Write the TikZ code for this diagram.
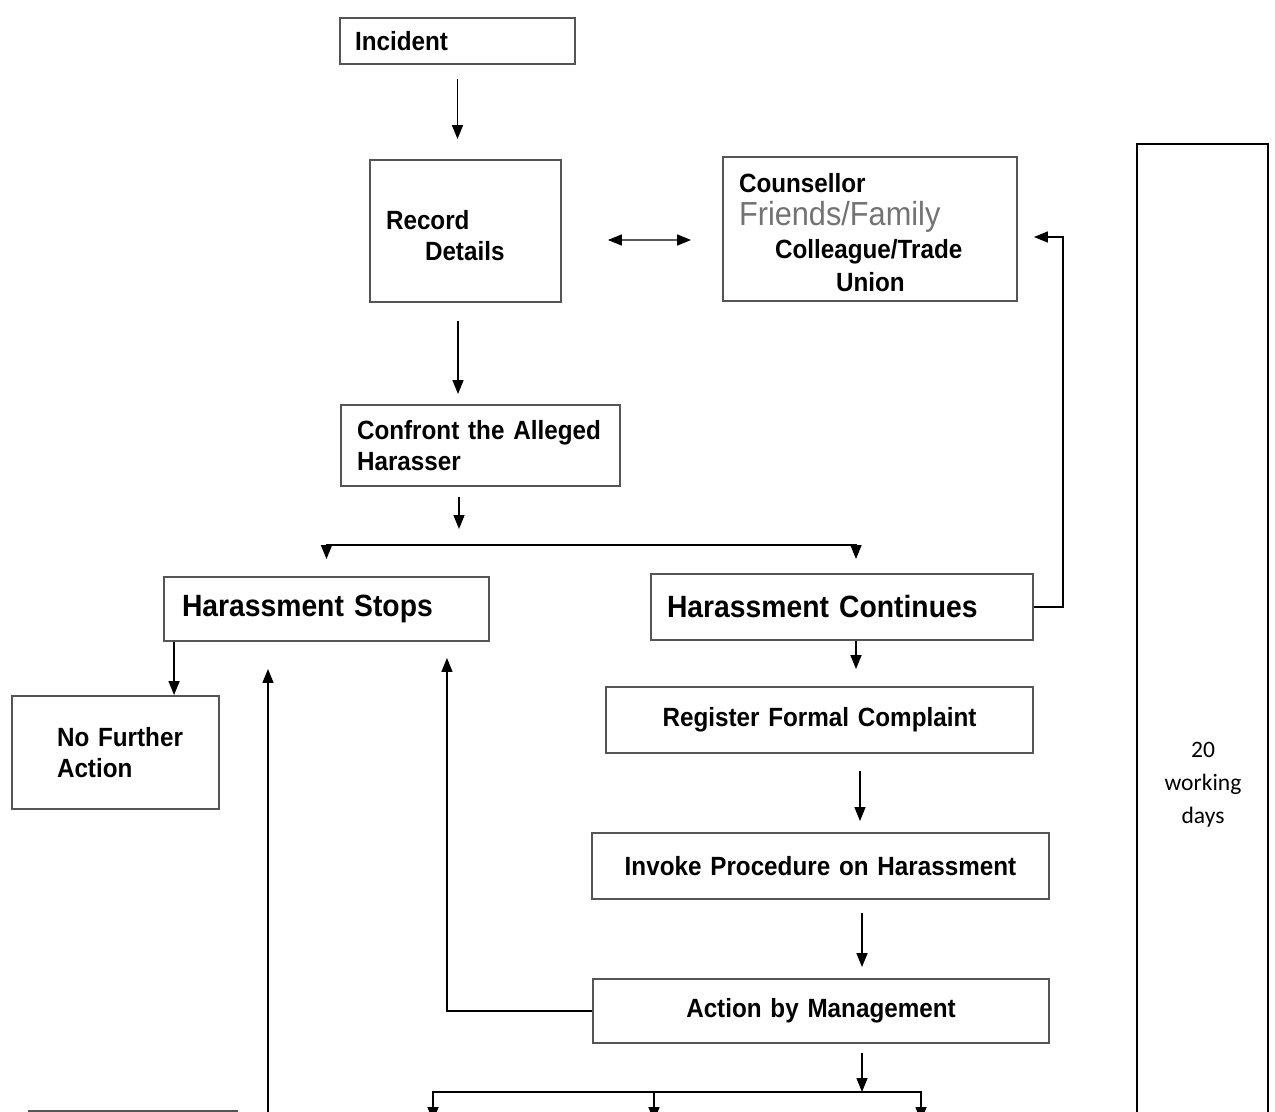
\documentclass[tikz,border=0pt]{standalone}
\usepackage{fontspec}
\newfontfamily\flowfont{Liberation Sans}[FakeStretch=0.92]
\newfontfamily\daysfont{Carlito}
\definecolor{boxgray}{RGB}{85,85,85}
\definecolor{softgray}{RGB}{115,115,115}
\usetikzlibrary{arrows.meta,positioning,calc}

\begin{document}
\begin{tikzpicture}[x=0.02cm, y=-0.02cm,
    box/.style={draw=boxgray, line width=1.1pt, inner xsep=0.3cm, inner ysep=0pt,
      font=\flowfont\bfseries\fontsize{15pt}{17.6pt}\selectfont, align=left},
    bigbox/.style={box, font=\flowfont\bfseries\fontsize{17.5pt}{20pt}\selectfont},
    arr/.style={-{Triangle[length=0.28cm,width=0.22cm]}, line width=0.85pt},
    arrboth/.style={{Triangle[length=0.28cm,width=0.22cm]}-{Triangle[length=0.28cm,width=0.22cm]}, line width=0.85pt}]
    \useasboundingbox (0,0) rectangle (1275,1112);
    \clip (0,0) rectangle (1275,1112);

    % Opening steps
    \node[box, text width=4.1cm, minimum height=0.92cm] (incident) at (457.5,41) {Incident};
    \node[box, inner xsep=0.32cm, text width=3.18cm, minimum height=2.84cm] (record) at (465.5,231)
      {\rule{0pt}{16.4pt}Record\\\hspace*{0.78cm}Details};
    \node[box, inner xsep=0.32cm, text width=5.24cm, minimum height=2.88cm,
          font=\flowfont\bfseries\fontsize{15pt}{18.8pt}\selectfont] (support) at (870,229)
      {\rule{0pt}{15.2pt}Counsellor\\{\color{softgray}\mdseries\fontsize{19pt}{18.8pt}\selectfont Friends/Family}\\
       \hspace*{0.72cm}Colleague/Trade\\\hspace*{1.94cm}Union};
    \node[box, inner xsep=0.32cm, text width=4.94cm, minimum height=1.62cm] (confront) at (480.5,445.5)
      {Confront the Alleged\\Harasser};

    % Outcomes
    \node[bigbox, inner xsep=0.36cm, text width=5.78cm, minimum height=1.28cm] (stops) at (326.5,609) {Harassment Stops};
    \node[bigbox, inner xsep=0.32cm, text width=7.0cm, minimum height=1.32cm] (continues) at (842,607) {Harassment Continues};
    \node[box, inner xsep=0.62cm, text width=2.9cm, minimum height=2.26cm] (nofurther) at (115.5,752.5)
      {\hspace*{0.28cm}No Further\\\hspace*{0.28cm}Action};

    % Formal route
    \node[box, align=center, text width=7.94cm, minimum height=1.32cm] (register) at (819.5,720) {Register Formal Complaint};
    \node[box, align=center, text width=8.54cm, minimum height=1.32cm] (invoke) at (820.5,866) {Invoke Procedure on Harassment};
    \node[box, align=center, text width=8.52cm, minimum height=1.28cm] (action) at (821,1011) {Action by Management};
    \node[box, minimum width=4.16cm, minimum height=1.2cm, anchor=north] (lowbox) at (133,1110) {};

    % Time limit
    \node[draw=black, line width=1.3pt, minimum width=2.62cm, minimum height=21.4cm, anchor=north] (days) at (1202.5,143) {};
    \node[font=\daysfont\fontsize{13.4pt}{18.7pt}\selectfont, align=center] (daysnote) at (1203,785) {20\\working\\days};

    % Connectors
    \draw[arr, shorten <=0.28cm, shorten >=0.4cm] (incident.south) -- (incident.south |- record.north);
    \draw[arrboth, shorten <=0.92cm, shorten >=0.62cm] ([yshift=-0.18cm]record.east) -- ([yshift=-0.22cm]support.west);
    \draw[arr, shorten <=0.36cm, shorten >=0.2cm] ([xshift=-0.15cm]record.south) -- ([xshift=-0.15cm]record.south |- confront.north);

    \coordinate (fork1) at (459,545);
    \draw[arr, shorten <=0.2cm, shorten >=0.32cm] (confront.south -| fork1) -- (fork1);
    \draw[arr, shorten >=0.34cm] (fork1) -| (stops.north);
    \draw[arr, shorten >=0.28cm] (fork1) -| ([xshift=0.28cm]continues.north);

    \draw[arr, shorten >=0.32cm] (continues.east) -- ++(0.58cm,0) |- ([yshift=-0.16cm]support.east);
    \draw[arr] ([xshift=0.22cm]stops.south west) -- ([xshift=0.22cm]stops.south west |- nofurther.north);

    \draw[arr, shorten >=0.34cm] ([xshift=0.28cm]continues.south) -- ([xshift=0.28cm]continues.south |- register.north);
    \draw[arr, shorten <=0.34cm, shorten >=0.22cm] ([xshift=0.81cm]register.south) -- ([xshift=0.81cm]register.south |- invoke.north);
    \draw[arr, shorten <=0.26cm, shorten >=0.22cm] ([xshift=0.83cm]invoke.south) -- ([xshift=0.83cm]invoke.south |- action.north);

    % Management decisions
    \coordinate (fork2) at (862,1092);
    \coordinate (out1) at (433,1121);
    \coordinate (out2) at (654,1121);
    \coordinate (out3) at (921,1121);
    \draw[arr, shorten <=0.18cm] (action.south -| fork2) -- (fork2);
    \draw[arr] (fork2) -| (out1);
    \draw[arr] (fork2) -| (out3);
    \draw[arr] (fork2 -| out2) -- (out2);

    \draw[arr, shorten >=0.32cm] (action.west) -| ([xshift=2.41cm]stops.south);
    \coordinate (lowin) at (268,1130);
    \draw[arr, shorten >=0.54cm] (lowin) -- (lowin |- stops.south);
\end{tikzpicture}
\end{document}
